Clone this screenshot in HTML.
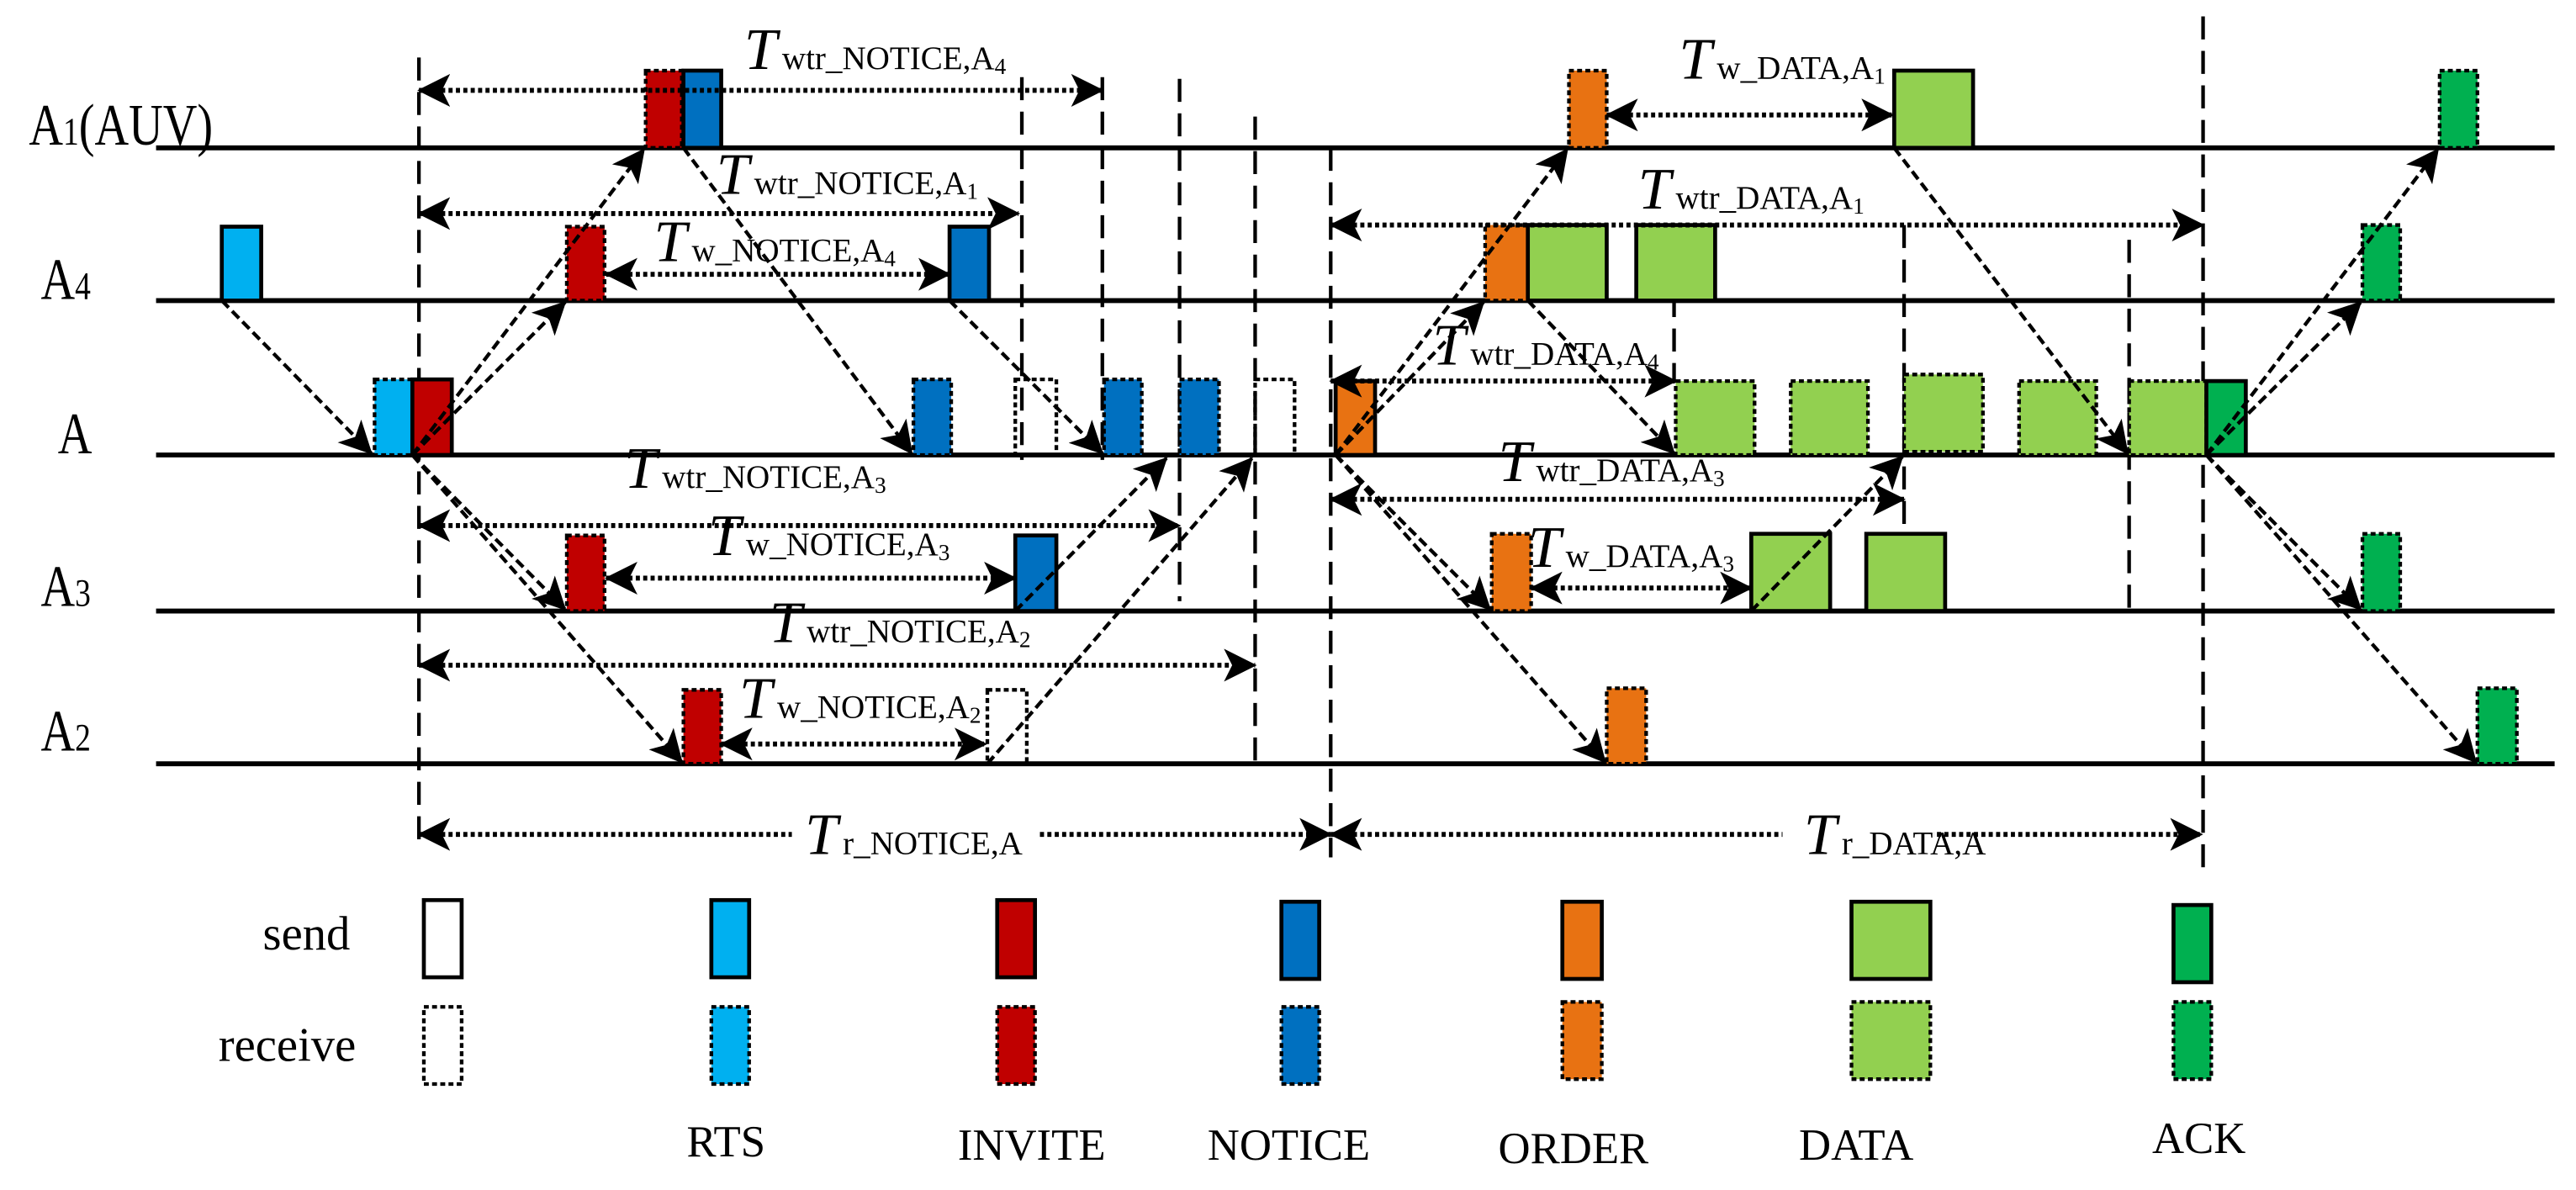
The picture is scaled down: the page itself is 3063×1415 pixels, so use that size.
<!DOCTYPE html>
<html><head><meta charset="utf-8"><style>
html,body{margin:0;padding:0;background:#fff;}
svg{display:block;}
text{font-family:"Liberation Serif",serif;fill:#000;}
.ln{stroke:#000;stroke-width:3;}
.vd{stroke:#000;stroke-width:2.2;stroke-dasharray:14 7;fill:none;}
.ha{stroke:#000;stroke-width:3;stroke-dasharray:2.5 2;fill:none;marker-start:url(#ah);marker-end:url(#ah);}
.da{stroke:#000;stroke-width:2.2;stroke-dasharray:6 3;fill:none;marker-end:url(#ah);}
.s{stroke:#000;stroke-width:2.4;}
.r{stroke:#000;stroke-width:2.2;stroke-dasharray:3 2;}
.T{font-style:italic;font-size:36px;}
.sb{font-size:20px;}
.sb2{font-size:14px;}
</style></head><body>
<svg width="3063" height="1415" viewBox="0 0 1568 724.5" preserveAspectRatio="none" xmlns="http://www.w3.org/2000/svg">
<defs>
<marker id="ah" viewBox="0 0 20 20" refX="19" refY="10" markerWidth="20" markerHeight="20" markerUnits="userSpaceOnUse" orient="auto-start-reverse">
<path d="M0,0 L20,10 L0,20 L5,10 z" fill="#000"/>
</marker>
</defs>

<line class="ln" x1="95" y1="90" x2="1555" y2="90"/>
<line class="ln" x1="95" y1="183" x2="1555" y2="183"/>
<line class="ln" x1="95" y1="277" x2="1555" y2="277"/>
<line class="ln" x1="95" y1="372" x2="1555" y2="372"/>
<line class="ln" x1="95" y1="465" x2="1555" y2="465"/>

<g transform="scale(0.8,1)">
<text x="22" y="88" font-size="36">A<tspan font-size="24">1</tspan>(AUV)</text>
<text x="31" y="182" font-size="36">A<tspan font-size="24">4</tspan></text>
<text x="44" y="276" font-size="36">A</text>
<text x="31" y="369" font-size="36">A<tspan font-size="24">3</tspan></text>
<text x="31" y="457" font-size="36">A<tspan font-size="24">2</tspan></text>
</g>

<line class="vd" x1="255" y1="35" x2="255" y2="515"/>
<line class="vd" x1="622" y1="47" x2="622" y2="280"/>
<line class="vd" x1="671" y1="47" x2="671" y2="280"/>
<line class="vd" x1="718" y1="48" x2="718" y2="366"/>
<line class="vd" x1="764" y1="71" x2="764" y2="466"/>
<line class="vd" x1="810" y1="90" x2="810" y2="522"/>
<line class="vd" x1="1019" y1="137" x2="1019" y2="232"/>
<line class="vd" x1="1159" y1="137" x2="1159" y2="373"/>
<line class="vd" x1="1296" y1="146" x2="1296" y2="373"/>
<line class="vd" x1="1341" y1="10" x2="1341" y2="530"/>

<rect class="r" x="393" y="43" width="22" height="47" fill="#c00000"/>
<rect class="s" x="416" y="43" width="23" height="47" fill="#0070c0"/>
<rect class="r" x="955" y="43" width="23" height="47" fill="#e87212"/>
<rect class="s" x="1153" y="43" width="48" height="47" fill="#92d050"/>
<rect class="r" x="1485" y="43" width="23" height="47" fill="#00b050"/>
<rect class="s" x="135" y="138" width="24" height="45" fill="#00b0f0"/>
<rect class="r" x="345" y="138" width="23" height="45" fill="#c00000"/>
<rect class="s" x="578" y="138" width="24" height="45" fill="#0070c0"/>
<rect class="r" x="904" y="137" width="26" height="46" fill="#e87212"/>
<rect class="s" x="930" y="137" width="48" height="46" fill="#92d050"/>
<rect class="s" x="996" y="137" width="48" height="46" fill="#92d050"/>
<rect class="r" x="1438" y="137" width="23" height="46" fill="#00b050"/>
<rect class="r" x="228" y="231" width="23" height="46" fill="#00b0f0"/>
<rect class="s" x="251" y="231" width="24" height="46" fill="#c00000"/>
<rect class="r" x="556" y="231" width="23" height="46" fill="#0070c0"/>
<rect class="r" x="618" y="231" width="25" height="46" fill="none"/>
<rect class="r" x="672" y="231" width="23" height="46" fill="#0070c0"/>
<rect class="r" x="718" y="231" width="24" height="46" fill="#0070c0"/>
<rect class="r" x="764" y="231" width="24" height="46" fill="none"/>
<rect class="s" x="813" y="232" width="24" height="45" fill="#e87212"/>
<rect class="r" x="1020" y="232" width="48" height="45" fill="#92d050"/>
<rect class="r" x="1090" y="232" width="47" height="45" fill="#92d050"/>
<rect class="r" x="1159" y="228" width="48" height="47" fill="#92d050"/>
<rect class="r" x="1229" y="232" width="47" height="45" fill="#92d050"/>
<rect class="r" x="1296" y="232" width="47" height="45" fill="#92d050"/>
<rect class="s" x="1343" y="232" width="24" height="45" fill="#00b050"/>
<rect class="r" x="345" y="326" width="23" height="46" fill="#c00000"/>
<rect class="s" x="618" y="326" width="25" height="46" fill="#0070c0"/>
<rect class="r" x="908" y="325" width="24" height="47" fill="#e87212"/>
<rect class="s" x="1066" y="325" width="48" height="47" fill="#92d050"/>
<rect class="s" x="1136" y="325" width="48" height="47" fill="#92d050"/>
<rect class="r" x="1438" y="325" width="23" height="47" fill="#00b050"/>
<rect class="r" x="416" y="420" width="23" height="45" fill="#c00000"/>
<rect class="r" x="601" y="420" width="24" height="45" fill="none"/>
<rect class="r" x="978" y="419" width="24" height="46" fill="#e87212"/>
<rect class="r" x="1508" y="419" width="24" height="46" fill="#00b050"/>

<line class="da" x1="135" y1="183" x2="226" y2="276"/>
<line class="da" x1="251" y1="277" x2="344" y2="184"/>
<line class="da" x1="251" y1="277" x2="392" y2="91"/>
<line class="da" x1="251" y1="277" x2="344" y2="371"/>
<line class="da" x1="251" y1="277" x2="415" y2="464"/>
<line class="da" x1="416" y1="90" x2="555" y2="276"/>
<line class="da" x1="578" y1="183" x2="671" y2="276"/>
<line class="da" x1="618" y1="372" x2="710" y2="279"/>
<line class="da" x1="601" y1="465" x2="762" y2="279"/>
<line class="da" x1="813" y1="277" x2="903" y2="184"/>
<line class="da" x1="813" y1="277" x2="954" y2="91"/>
<line class="da" x1="813" y1="277" x2="907" y2="371"/>
<line class="da" x1="813" y1="277" x2="977" y2="464"/>
<line class="da" x1="930" y1="183" x2="1019" y2="276"/>
<line class="da" x1="1066" y1="372" x2="1158" y2="278"/>
<line class="da" x1="1153" y1="90" x2="1295" y2="276"/>
<line class="da" x1="1343" y1="277" x2="1437" y2="184"/>
<line class="da" x1="1343" y1="277" x2="1484" y2="91"/>
<line class="da" x1="1343" y1="277" x2="1437" y2="371"/>
<line class="da" x1="1343" y1="277" x2="1507" y2="464"/>

<line class="ha" x1="255" y1="55" x2="671" y2="55"/>
<line class="ha" x1="255" y1="130" x2="620" y2="130"/>
<line class="ha" x1="369" y1="167" x2="578" y2="167"/>
<line class="ha" x1="255" y1="320" x2="718" y2="320"/>
<line class="ha" x1="369" y1="352" x2="618" y2="352"/>
<line class="ha" x1="255" y1="405" x2="764" y2="405"/>
<line class="ha" x1="439" y1="453" x2="600" y2="453"/>
<line class="ha" x1="255" y1="508" x2="810" y2="508"/>
<line class="ha" x1="978" y1="70" x2="1152" y2="70"/>
<line class="ha" x1="810" y1="137" x2="1341" y2="137"/>
<line class="ha" x1="810" y1="232" x2="1020" y2="232"/>
<line class="ha" x1="810" y1="304" x2="1159" y2="304"/>
<line class="ha" x1="932" y1="358" x2="1066" y2="358"/>
<line class="ha" x1="810" y1="508" x2="1340" y2="508"/>

<rect x="482" y="496" width="150" height="24" fill="#fff"/>
<rect x="1085" y="496" width="92" height="24" fill="#fff"/>
<text x="453" y="42"><tspan class="T">T</tspan><tspan class="sb" dx="3">wtr_NOTICE,A</tspan><tspan class="sb2" dy="3">4</tspan></text>
<text x="436" y="118"><tspan class="T">T</tspan><tspan class="sb" dx="3">wtr_NOTICE,A</tspan><tspan class="sb2" dy="3">1</tspan></text>
<text x="398" y="159"><tspan class="T">T</tspan><tspan class="sb" dx="3">w_NOTICE,A</tspan><tspan class="sb2" dy="3">4</tspan></text>
<text x="380" y="297"><tspan class="T">T</tspan><tspan class="sb" dx="3">wtr_NOTICE,A</tspan><tspan class="sb2" dy="3">3</tspan></text>
<text x="431" y="338"><tspan class="T">T</tspan><tspan class="sb" dx="3">w_NOTICE,A</tspan><tspan class="sb2" dy="3">3</tspan></text>
<text x="468" y="391"><tspan class="T">T</tspan><tspan class="sb" dx="3">wtr_NOTICE,A</tspan><tspan class="sb2" dy="3">2</tspan></text>
<text x="450" y="437"><tspan class="T">T</tspan><tspan class="sb" dx="3">w_NOTICE,A</tspan><tspan class="sb2" dy="3">2</tspan></text>
<text x="490" y="520"><tspan class="T">T</tspan><tspan class="sb" dx="3">r_NOTICE,A</tspan></text>
<text x="1022" y="48"><tspan class="T">T</tspan><tspan class="sb" dx="3">w_DATA,A</tspan><tspan class="sb2" dy="3">1</tspan></text>
<text x="997" y="127"><tspan class="T">T</tspan><tspan class="sb" dx="3">wtr_DATA,A</tspan><tspan class="sb2" dy="3">1</tspan></text>
<text x="872" y="222"><tspan class="T">T</tspan><tspan class="sb" dx="3">wtr_DATA,A</tspan><tspan class="sb2" dy="3">4</tspan></text>
<text x="912" y="293"><tspan class="T">T</tspan><tspan class="sb" dx="3">wtr_DATA,A</tspan><tspan class="sb2" dy="3">3</tspan></text>
<text x="930" y="345"><tspan class="T">T</tspan><tspan class="sb" dx="3">w_DATA,A</tspan><tspan class="sb2" dy="3">3</tspan></text>
<text x="1098" y="520"><tspan class="T">T</tspan><tspan class="sb" dx="3">r_DATA,A</tspan></text>

<text x="160" y="578" font-size="29">send</text>
<text x="133" y="646" font-size="29">receive</text>
<rect class="s" x="258" y="548" width="23" height="47" fill="#fff"/>
<rect class="s" x="433" y="548" width="23" height="47" fill="#00b0f0"/>
<rect class="s" x="607" y="548" width="23" height="47" fill="#c00000"/>
<rect class="s" x="780" y="549" width="23" height="47" fill="#0070c0"/>
<rect class="s" x="951" y="549" width="24" height="47" fill="#e87212"/>
<rect class="s" x="1127" y="549" width="48" height="47" fill="#92d050"/>
<rect class="s" x="1323" y="551" width="23" height="47" fill="#00b050"/>
<rect class="r" x="258" y="613" width="23" height="47" fill="#fff"/>
<rect class="r" x="433" y="613" width="23" height="47" fill="#00b0f0"/>
<rect class="r" x="607" y="613" width="23" height="47" fill="#c00000"/>
<rect class="r" x="780" y="613" width="23" height="47" fill="#0070c0"/>
<rect class="r" x="951" y="610" width="24" height="47" fill="#e87212"/>
<rect class="r" x="1127" y="610" width="48" height="47" fill="#92d050"/>
<rect class="r" x="1323" y="610" width="23" height="47" fill="#00b050"/>
<text x="418" y="704" font-size="27">RTS</text>
<text x="583" y="706" font-size="27">INVITE</text>
<text x="735" y="706" font-size="27">NOTICE</text>
<text x="912" y="708" font-size="27">ORDER</text>
<text x="1095" y="706" font-size="27">DATA</text>
<text x="1310" y="702" font-size="27">ACK</text>
</svg>
</body></html>
